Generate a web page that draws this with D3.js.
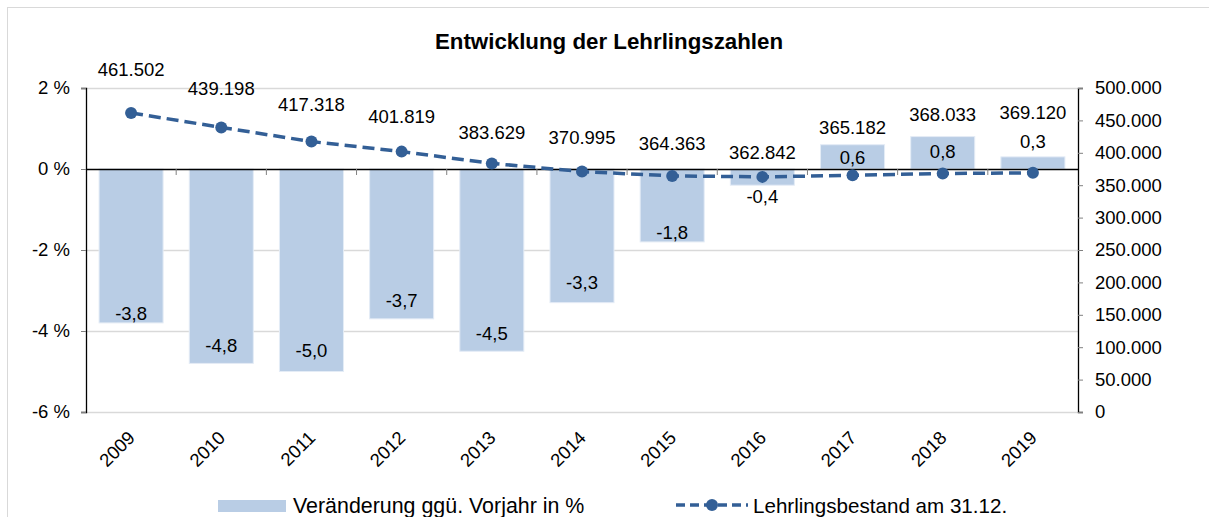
<!DOCTYPE html>
<html>
<head>
<meta charset="utf-8">
<script src="https://cdn.jsdelivr.net/npm/d3@7"></script>
<style>
  body { margin: 0; background: #fff; }
  text { font-family: "Liberation Sans", Arial, sans-serif; fill: #000; }
</style>
</head>
<body>
<div id="chart"></div>
<script>
var years = ['2009', '2010', '2011', '2012', '2013', '2014', '2015', '2016', '2017', '2018', '2019'];
var changePct = [-3.8, -4.8, -5.0, -3.7, -4.5, -3.3, -1.8, -0.4, 0.6, 0.8, 0.3];
var apprentices = [461502, 439198, 417318, 401819, 383629, 370995, 364363, 362842, 365182, 368033, 369120];
var pctTicks = [-6, -4, -2, 0, 2];
var countTicks = [0, 50000, 100000, 150000, 200000, 250000, 300000, 350000, 400000, 450000, 500000];

// label nudges (px) as placed in the original
var barLabelShift = [9, 18, 21, 18, 18, 20, 9, -11, 13, 15, -15];
var lineLabelLift = [43, 39, 37, 35, 31, 34, 32, 24, 48, 59, 60];

var de = d3.formatLocale({decimal: ',', thousands: '.', grouping: [3], currency: ['', ' €'], minus: '-'});
var fmtCount = de.format(',d');
var fmtPct = de.format('.1f');

var width = 1209, height = 517;
var plotLeft = 86, plotRight = 1078, plotTop = 88, plotBottom = 412;
var lineColor = '#335f96';

var svg = d3.select('#chart').append('svg')
  .attr('width', width)
  .attr('height', height);

svg.append('rect')
  .attr('x', 7.5).attr('y', 7.5)
  .attr('width', 1212).attr('height', 520)
  .attr('fill', 'none')
  .attr('stroke', '#d9d9d9');

var x = d3.scaleBand().domain(years).range([plotLeft, plotRight]).paddingInner(0.29).paddingOuter(0.145);
var yL = d3.scaleLinear().domain([-6, 2]).range([plotBottom, plotTop]);
var yR = d3.scaleLinear().domain([0, 500000]).range([plotBottom, plotTop]);

// gridlines
svg.append('g').selectAll('line')
  .data(pctTicks.filter(function(d) { return d !== 0; }))
  .enter().append('line')
  .attr('x1', plotLeft).attr('x2', plotRight)
  .attr('y1', function(d) { return yL(d) + 0.5; })
  .attr('y2', function(d) { return yL(d) + 0.5; })
  .attr('stroke', '#d9d9d9')
  .attr('stroke-width', 1.5);

// bars
var barData = years.map(function(y, i) { return {year: y, v: changePct[i], i: i}; });
svg.append('g').selectAll('rect')
  .data(barData)
  .enter().append('rect')
  .attr('x', function(d) { return x(d.year); })
  .attr('width', x.bandwidth())
  .attr('y', function(d) { return yL(Math.max(0, d.v)); })
  .attr('height', function(d) { return Math.abs(yL(d.v) - yL(0)); })
  .attr('fill', '#b9cde5')
  .attr('stroke', '#e4ecf6')
  .attr('stroke-width', 1);

// zero line + category ticks
svg.append('line')
  .attr('x1', plotLeft).attr('x2', plotRight)
  .attr('y1', yL(0) + 0.5).attr('y2', yL(0) + 0.5)
  .attr('stroke', '#000').attr('stroke-width', 1.3);

svg.append('g').selectAll('line')
  .data(years.slice(1))
  .enter().append('line')
  .attr('x1', function(d) { return x(d) - x.step() * x.paddingInner() / 2; })
  .attr('x2', function(d) { return x(d) - x.step() * x.paddingInner() / 2; })
  .attr('y1', yL(0)).attr('y2', yL(0) + 6)
  .attr('stroke', '#808080');

// axes
var axL = svg.append('g')
  .attr('transform', 'translate(' + plotLeft + ',0)')
  .call(d3.axisLeft(yL).tickValues(pctTicks).tickSize(5).tickPadding(11)
    .tickFormat(function(d) { return d + ' %'; }));
var axR = svg.append('g')
  .attr('transform', 'translate(' + plotRight + ',0)')
  .call(d3.axisRight(yR).tickValues(countTicks).tickSize(5).tickPadding(12)
    .tickFormat(fmtCount));

[axL, axR].forEach(function(ax) {
  ax.select('.domain').attr('stroke', '#000').attr('stroke-width', 1.3);
  ax.selectAll('.tick line').attr('stroke', '#808080');
  ax.selectAll('.tick text')
    .style('font-size', '18.5px')
    .style('font-family', '"Liberation Sans", Arial, sans-serif')
    .attr('fill', '#000');
});

// x labels
svg.append('g').selectAll('text')
  .data(years)
  .enter().append('text')
  .attr('transform', function(d) {
    return 'translate(' + (x(d) + x.bandwidth() / 2 + 5) + ',439) rotate(-45)';
  })
  .attr('text-anchor', 'end')
  .style('font-size', '18.5px')
  .text(function(d) { return d; });

// bar labels
svg.append('g').selectAll('text')
  .data(barData)
  .enter().append('text')
  .attr('x', function(d) { return x(d.year) + x.bandwidth() / 2; })
  .attr('y', function(d) {
    var s = barLabelShift[d.i];
    return yL(d.v) + (d.v < 0 ? -s : s);
  })
  .attr('dy', '0.35em')
  .attr('text-anchor', 'middle')
  .style('font-size', '18.5px')
  .text(function(d) { return fmtPct(d.v); });

// line
var lineData = years.map(function(y, i) { return {year: y, v: apprentices[i], i: i}; });
var line = d3.line()
  .x(function(d) { return x(d.year) + x.bandwidth() / 2; })
  .y(function(d) { return yR(d.v); });

svg.append('path')
  .datum(lineData)
  .attr('d', line)
  .attr('fill', 'none')
  .attr('stroke', lineColor)
  .attr('stroke-width', 3.5)
  .attr('stroke-dasharray', '12,6');

svg.append('g').selectAll('circle')
  .data(lineData)
  .enter().append('circle')
  .attr('cx', function(d) { return x(d.year) + x.bandwidth() / 2; })
  .attr('cy', function(d) { return yR(d.v); })
  .attr('r', 6)
  .attr('fill', lineColor);

svg.append('g').selectAll('text')
  .data(lineData)
  .enter().append('text')
  .attr('x', function(d) { return x(d.year) + x.bandwidth() / 2; })
  .attr('y', function(d) { return yR(d.v) - lineLabelLift[d.i]; })
  .attr('dy', '0.35em')
  .attr('text-anchor', 'middle')
  .style('font-size', '18.5px')
  .text(function(d) { return fmtCount(d.v); });

// title
svg.append('text')
  .attr('x', 609).attr('y', 41)
  .attr('dy', '0.35em')
  .attr('text-anchor', 'middle')
  .style('font-size', '22.3px')
  .style('font-weight', 'bold')
  .text('Entwicklung der Lehrlingszahlen');

// legend
var legend = svg.append('g');
legend.append('rect')
  .attr('x', 218).attr('y', 500)
  .attr('width', 68).attr('height', 12)
  .attr('fill', '#b9cde5');
legend.append('text')
  .attr('x', 293).attr('y', 513)
  .style('font-size', '21.4px')
  .text('Veränderung ggü. Vorjahr in %');

legend.append('line')
  .attr('x1', 676).attr('x2', 748)
  .attr('y1', 505).attr('y2', 505)
  .attr('stroke', lineColor)
  .attr('stroke-width', 3.5)
  .attr('stroke-dasharray', '9,5');
legend.append('circle')
  .attr('cx', 712).attr('cy', 505).attr('r', 6)
  .attr('fill', lineColor);
legend.append('text')
  .attr('x', 753).attr('y', 513)
  .style('font-size', '20.6px')
  .text('Lehrlingsbestand am 31.12.');
</script>
</body>
</html>
